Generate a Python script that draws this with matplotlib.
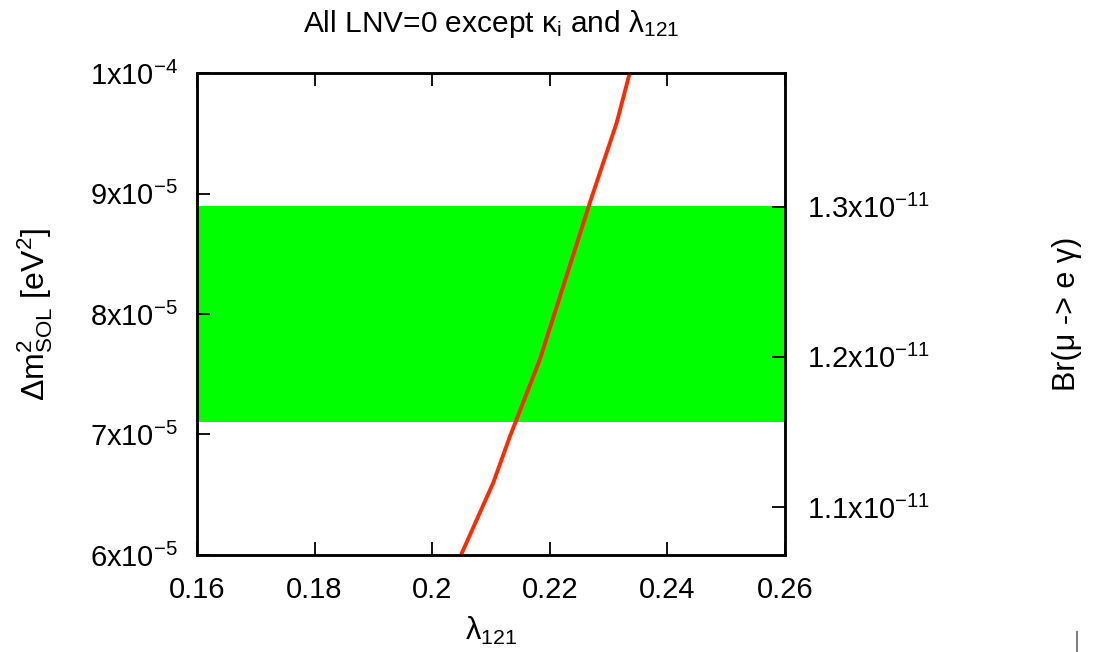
import matplotlib
matplotlib.use("Agg")
import matplotlib.pyplot as plt
from matplotlib.lines import Line2D

plt.rcParams['font.family'] = ['Liberation Sans', 'DejaVu Sans']
plt.rcParams['mathtext.default'] = 'regular'

# curve: lambda_121 vs Delta m^2_SOL
lam = [0.2050, 0.2104, 0.2132, 0.2183, 0.2268, 0.2314, 0.2336]
dm2 = [6.01e-5, 6.60e-5, 6.98e-5, 7.62e-5, 8.92e-5, 9.59e-5, 1.0e-4]

# allowed band for Delta m^2_SOL
band_lo = 7.1e-5
band_hi = 8.9e-5

xticks = [0.16, 0.18, 0.20, 0.22, 0.24, 0.26]
xlabels = ['0.16', '0.18', '0.2', '0.22', '0.24', '0.26']
yticks = [6e-5, 7e-5, 8e-5, 9e-5, 1e-4]
ylabels = ['6x10$^{-5}$', '7x10$^{-5}$', '8x10$^{-5}$', '9x10$^{-5}$', '1x10$^{-4}$']
rticks = [1.1e-11, 1.2e-11, 1.3e-11]
rlabels = ['1.1x10$^{-11}$', '1.2x10$^{-11}$', '1.3x10$^{-11}$']

fs = 21

fig = plt.figure(figsize=(10.94, 6.52), dpi=100)
ax = fig.add_axes([0.180, 0.1488, 0.5375, 0.7392])

ax.axhspan(band_lo, band_hi, color='#00ff00', lw=0, zorder=1)
ax.plot(lam, dm2, color='#ff2a00', lw=2.8, zorder=3)

ax.set_xlim(0.16, 0.26)
ax.set_ylim(6e-5, 1e-4)
ax.set_xticks(xticks, xlabels)
ax.set_yticks(yticks, ylabels)
ax.tick_params(direction='in', length=9.4, width=1.3, labelsize=fs, top=True)
ax.tick_params(axis='x', pad=15)
ax.tick_params(axis='y', pad=13.5)
for s in ax.spines.values():
    s.set_linewidth(1.8)

ax.set_xlabel('λ$_{121}$', fontsize=22)
ax.xaxis.set_label_coords(0.5, -0.125)
ax.set_ylabel('Δm$^2_{SOL}$ [eV$^2$]', fontsize=23)
ax.yaxis.set_label_coords(-0.2415, 0.5)
ax.set_title('All LNV=0 except κ$_i$ and λ$_{121}$', fontsize=21.5, pad=29.5)

ax2 = ax.twinx()
ax2.set_ylim(1.068e-11, 1.389e-11)
ax2.set_yticks(rticks, rlabels)
ax2.tick_params(direction='in', length=9.4, width=1.3, labelsize=fs, pad=16)
for s in ax2.spines.values():
    s.set_linewidth(1.8)
ax2.set_ylabel('Br(μ -> e γ)', fontsize=22)
ax2.yaxis.set_label_coords(1.454, 0.5)

# small grey mark in the lower right corner
fig.add_artist(Line2D([1077 / 1094, 1077 / 1094], [1 - 632 / 652, 1 - 652 / 652],
                      color='#808080', lw=1.5))

fig.savefig('out.png', dpi=100)
